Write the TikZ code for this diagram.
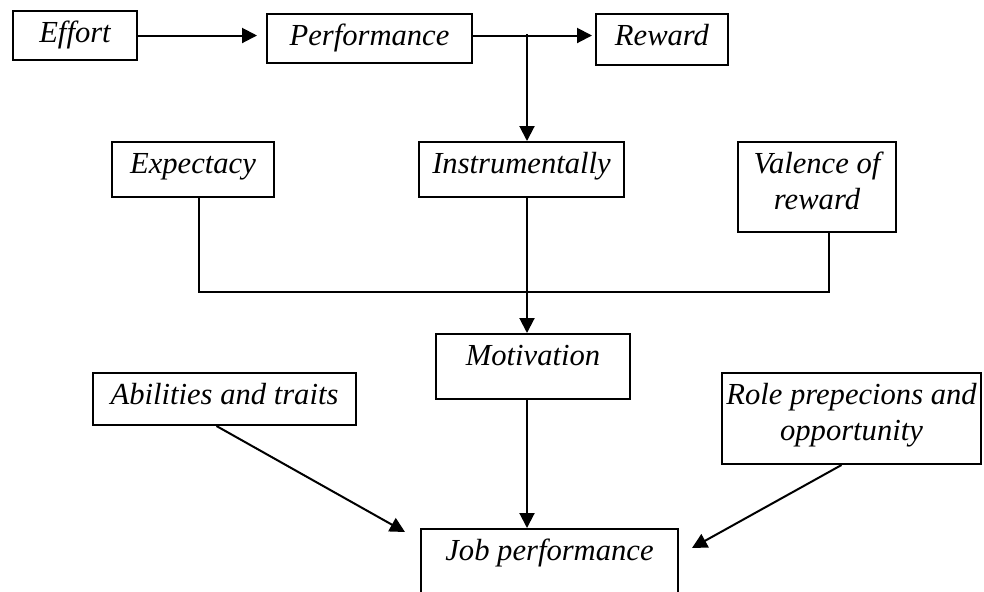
\documentclass[tikz,border=0pt]{standalone}
\usepackage{fontspec}
\setmainfont{Liberation Serif}
\usetikzlibrary{arrows.meta, positioning, calc}
\newcommand{\boxlabel}[3]{\parbox[c][#2][t]{#1}{\centering\rule{0pt}{15.5pt}#3\par}}

\begin{document}
\begin{tikzpicture}[x=0.5pt, y=-0.5pt,
  factor/.style={draw, line width=1pt, inner sep=0pt, anchor=north west, font=\fontsize{15.3}{18}\selectfont\itshape},
  arrow/.style={-{Triangle[length=7.5pt,width=7.5pt]}, line width=1pt},
  link/.style={line width=1pt}
]
  \useasboundingbox (0,0) rectangle (984,591);
  % top row
  \node[factor] (effort) at (12,10) {\boxlabel{62pt}{24.5pt}{Effort}};
  \node[factor] (perf) at (266,13) {\boxlabel{102.5pt}{24.5pt}{Performance}};
  \node[factor] (reward) at (595,13) {\boxlabel{66pt}{25.5pt}{Reward}};
  % the three factors
  \node[factor] (expect) at (111,141) {\boxlabel{81pt}{27.5pt}{Expectacy}};
  \node[factor] (instr) at (418,141) {\boxlabel{102.5pt}{27.5pt}{Instrumentally}};
  \node[factor] (valence) at (737,141) {\boxlabel{79pt}{45pt}{Valence of\\reward}};
  % lower part
  \node[factor] (motiv) at (435,333) {\boxlabel{97pt}{32.5pt}{Motivation}};
  \node[factor] (abil) at (92,372) {\boxlabel{131.5pt}{26pt}{Abilities and traits}};
  \node[factor] (role) at (721,372) {\boxlabel{129.5pt}{45.5pt}{Role prepecions and\\opportunity}};
  \node[factor] (job) at (420,528) {\boxlabel{128.5pt}{46pt}{Job performance}};

  \coordinate (split) at (527,34);
  \coordinate (merge) at (527,292);

  \draw[arrow, shorten >=4.5pt] (effort.east) -- (effort.east -| perf.west);
  \draw[arrow, shorten >=1.5pt] (effort.east -| perf.east) -- (effort.east -| reward.west);
  \draw[arrow] (split) -- (split |- instr.north);
  \draw[link] ([xshift=3pt]expect.south) |- (merge) -| ([xshift=6pt]valence.south);
  \draw[arrow] (split |- instr.south) -- (split |- motiv.north);
  \draw[arrow] (split |- motiv.south) -- (split |- job.north);
  \draw[arrow] ([xshift=-4pt]abil.south) -- ([xshift=-7.5pt,yshift=-2pt]job.north west);
  \draw[arrow] ([xshift=-5pt]role.south) -- ([xshift=6.5pt,yshift=-10pt]job.north east);
\end{tikzpicture}
\end{document}
